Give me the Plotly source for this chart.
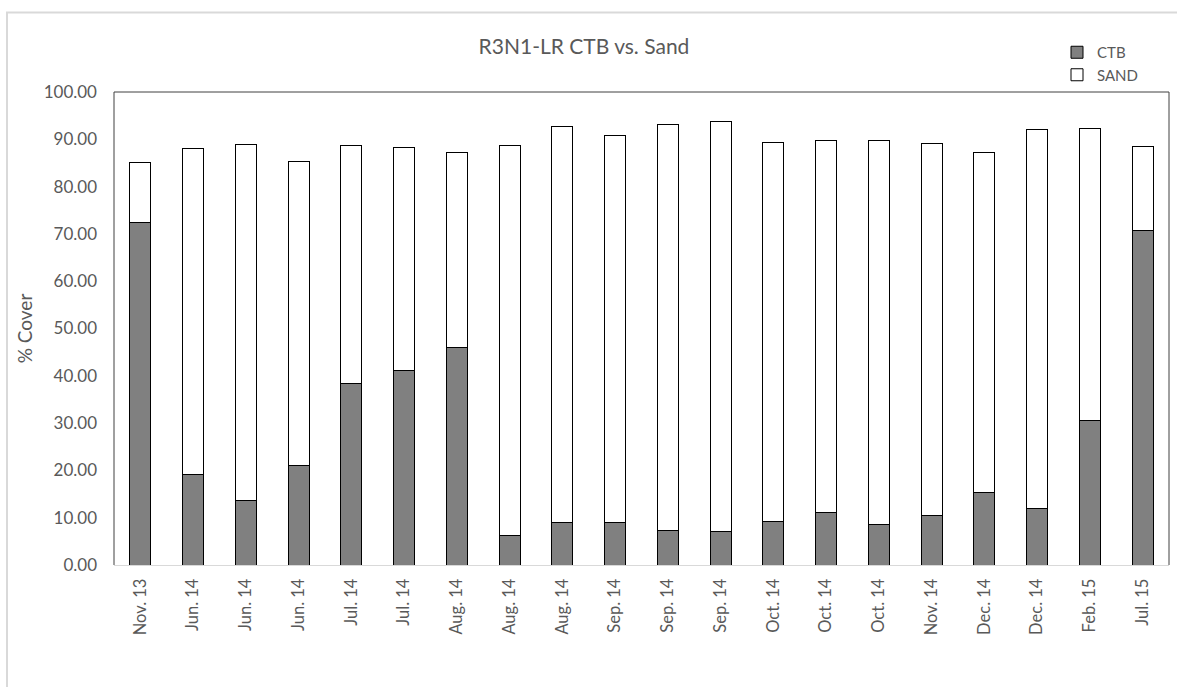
import plotly.graph_objects as go

categories = ["Nov. 13", "Jun. 14", "Jun. 14", "Jun. 14", "Jul. 14", "Jul. 14", "Aug. 14",
              "Aug. 14", "Aug. 14", "Sep. 14", "Sep. 14", "Sep. 14", "Oct. 14", "Oct. 14",
              "Oct. 14", "Nov. 14", "Dec. 14", "Dec. 14", "Feb. 15", "Jul. 15"]
ctb = [72.5, 19.2, 13.6, 21.1, 38.4, 41.1, 46.0, 6.2, 8.9, 8.9, 7.4, 7.0, 9.1, 11.0,
       8.6, 10.4, 15.3, 11.9, 30.5, 70.7]
sand = [12.6, 68.9, 75.3, 64.2, 50.3, 47.2, 41.2, 82.5, 83.9, 81.8, 85.8, 86.8, 80.2, 78.8,
        81.2, 78.7, 71.9, 80.2, 61.8, 17.8]

x_idx = list(range(len(categories)))
FONT = "Lato, 'Open Sans', sans-serif"
GREY = "#595959"

fig = go.Figure()
fig.add_trace(go.Bar(x=x_idx, y=ctb, name="CTB", marker=dict(color="#808080", line=dict(color="#000000", width=1))))
fig.add_trace(go.Bar(x=x_idx, y=sand, name="SAND", marker=dict(color="#ffffff", line=dict(color="#000000", width=1))))

W, H = 1177, 687
L, R, T, B = 114, 8, 92, 122
PW, PH = W - L - R, H - T - B
fig.update_layout(
    barmode="stack",
    bargap=0.6,
    width=W, height=H,
    margin=dict(l=L, r=R, t=T, b=B),
    paper_bgcolor="white", plot_bgcolor="white",
    font=dict(family=FONT, color=GREY),
    title=dict(text="R3N1-LR CTB vs. Sand", x=584 / W, xref="container", xanchor="center",
               y=1 - 47 / H, yref="container", yanchor="middle",
               font=dict(size=21, color=GREY, family=FONT)),
    legend=dict(x=(1057 - L) / PW, y=(H - B - 36) / PH, xanchor="left", yanchor="top",
                xref="paper", yref="paper",
                font=dict(size=15, color=GREY), bgcolor="rgba(0,0,0,0)", itemwidth=30,
                traceorder="normal"),
    showlegend=True,
)
fig.update_xaxes(
    tickmode="array", tickvals=x_idx, ticktext=categories, tickangle=-90,
    range=[-0.5, len(categories) - 0.5],
    showgrid=False, zeroline=False, showline=True, linecolor="#d9d9d9", linewidth=1,
    ticks="", ticklabelstandoff=6, tickfont=dict(size=16.5, color=GREY, family=FONT),
)
fig.update_yaxes(
    range=[0, 100], dtick=10, tickformat=".2f",
    showgrid=False, zeroline=False, showline=False,
    ticks="", ticklabelstandoff=16, tickfont=dict(size=17, color=GREY, family=FONT),
    title=dict(text="% Cover", font=dict(size=19, color=GREY, family=FONT), standoff=6),
)
# plot area border (top, left, right)
for x0, y0, x1, y1 in [(0, 1, 1, 1), (0, 0, 0, 1), (1, 0, 1, 1)]:
    fig.add_shape(type="line", xref="paper", yref="paper", x0=x0, y0=y0, x1=x1, y1=y1,
                  line=dict(color="#404040", width=1), layer="above")
# outer chart border
fig.add_shape(type="rect", xref="paper", yref="paper",
              x0=(7 - L) / PW, y0=-0.6, x1=1.3, y1=(H - B - 12.5) / PH,
              line=dict(color="#d9d9d9", width=2), layer="below")

fig.write_html("out.html", config={"displayModeBar": False},
               post_script="document.body.style.margin='0';")
